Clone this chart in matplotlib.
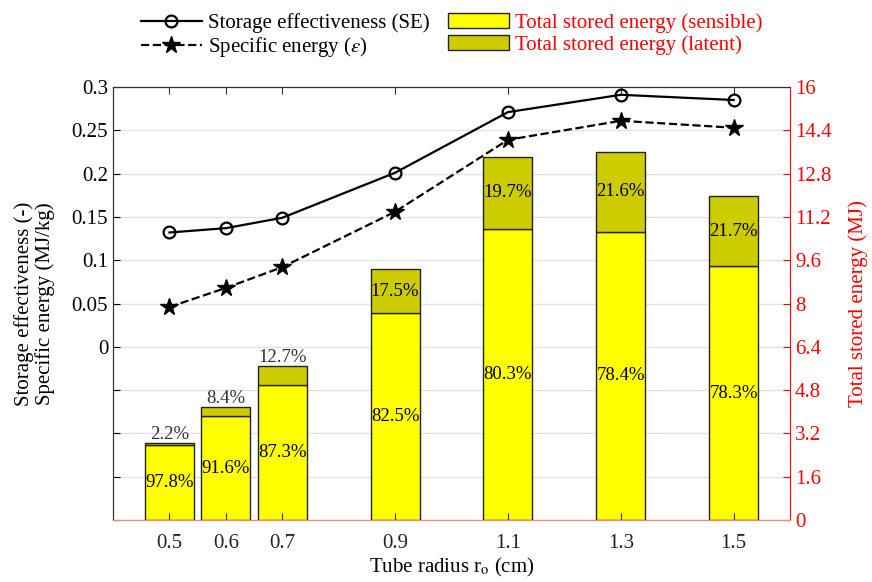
import numpy as np
import matplotlib
matplotlib.use("Agg")
import matplotlib.pyplot as plt

plt.rcParams['font.family'] = ['Liberation Serif', 'DejaVu Serif']
plt.rcParams['mathtext.fontset'] = 'stix'

# data
radius = [0.5, 0.6, 0.7, 0.9, 1.1, 1.3, 1.5]
se = [0.132, 0.137, 0.149, 0.201, 0.271, 0.291, 0.285]
spec_energy = [0.046, 0.068, 0.092, 0.156, 0.239, 0.261, 0.253]
sensible = [2.79, 3.83, 4.98, 7.65, 10.77, 10.66, 9.37]
latent = [0.06, 0.35, 0.71, 1.62, 2.64, 2.94, 2.60]
sens_pct = ['97.8%', '91.6%', '87.3%', '82.5%', '80.3%', '78.4%', '78.3%']
lat_pct = ['2.2%', '8.4%', '12.7%', '17.5%', '19.7%', '21.6%', '21.7%']
left_ticks = [-0.2, -0.15, -0.1, -0.05, 0, 0.05, 0.1, 0.15, 0.2, 0.25, 0.3]
left_labels = ['', '', '', '', '0', '0.05', '0.1', '0.15', '0.2', '0.25', '0.3']
right_ticks = [0, 1.6, 3.2, 4.8, 6.4, 8, 9.6, 11.2, 12.8, 14.4, 16]

red = '#ff0000'
fs = 15
fig = plt.figure(figsize=(8.72, 5.82), dpi=100)
ax = fig.add_axes([0.1296, 0.1065, 0.7764, 0.744])
ax2 = ax.twinx()
ax.set_zorder(ax2.get_zorder() + 1)
ax.patch.set_visible(False)

# bars on right axis
w = 0.087
b1 = ax2.bar(radius, sensible, w, color='#ffff00', edgecolor='#222222', lw=1.0,
             label='Total stored energy (sensible)')
b2 = ax2.bar(radius, latent, w, bottom=sensible, color='#cccc00', edgecolor='#222222',
             lw=1.0, label='Total stored energy (latent)')
for i, x in enumerate(radius):
    ax2.text(x, sensible[i] / 2, sens_pct[i], ha='center', va='center', fontsize=13.5)
    top = sensible[i] + latent[i]
    if i < 3:
        ax2.text(x, top, lat_pct[i], ha='center', va='bottom', fontsize=13.5,
                 color='#333333')
    else:
        ax2.text(x, sensible[i] + latent[i] / 2, lat_pct[i], ha='center', va='center',
                 fontsize=13.5)

ax2.set_ylim(0, 16)
ax2.set_yticks(right_ticks)
ax2.set_yticklabels(['%g' % t for t in right_ticks])
ax2.tick_params(axis='y', colors=red, direction='in', labelsize=fs, length=5)
ax2.set_ylabel('Total stored energy (MJ)', color=red, fontsize=fs, labelpad=12)
ax2.set_axisbelow(True)
ax2.grid(True, color='#e3e3e3', lw=1.0)
ax2.set_xticks(radius)

# lines on left axis
l1, = ax.plot(radius, se, '-', color='k', lw=1.6, marker='o', ms=8.5, mfc='none',
              mew=1.6, label='Storage effectiveness (SE)')
l2, = ax.plot(radius, spec_energy, '--', color='k', lw=1.6, marker='*', ms=13,
              mfc='k', label=r'Specific energy ($\epsilon$)')
ax.set_xlim(0.4, 1.6)
ax.set_ylim(-0.2, 0.3)
ax.set_yticks(left_ticks)
ax.set_yticklabels(left_labels)
ax.set_xticks(radius)
ax.set_xticklabels(['%g' % r for r in radius])
ax.tick_params(direction='in', top=True, labelsize=fs, length=5)
ax.tick_params(axis='x', pad=10, colors='#333333', labelcolor='#222222')
ax.set_xlabel(r'Tube radius r$_{\rm o}$ (cm)', fontsize=fs, labelpad=2)
ax.set_ylabel('Storage effectiveness (-)\nSpecific energy (MJ/kg)', fontsize=fs,
              labelpad=12, linespacing=1.05)

for a in (ax, ax2):
    a.spines['top'].set_color('#333333')
    a.spines['left'].set_color('#333333')
    a.spines['bottom'].set_color('#ff8080')
    a.spines['right'].set_color(red)
ax.spines['right'].set_visible(False)

leg = fig.legend([l1, l2, b1, b2],
                 [l1.get_label(), l2.get_label(), b1.get_label(), b2.get_label()],
                 ncol=2, loc='upper center', bbox_to_anchor=(0.518, 0.999),
                 frameon=False, fontsize=fs, handlelength=2.9, columnspacing=0.9,
                 handletextpad=0.3, labelspacing=0.1, borderaxespad=0.2)
for t in leg.get_texts()[2:]:
    t.set_color(red)

fig.savefig('out.png', dpi=100)
